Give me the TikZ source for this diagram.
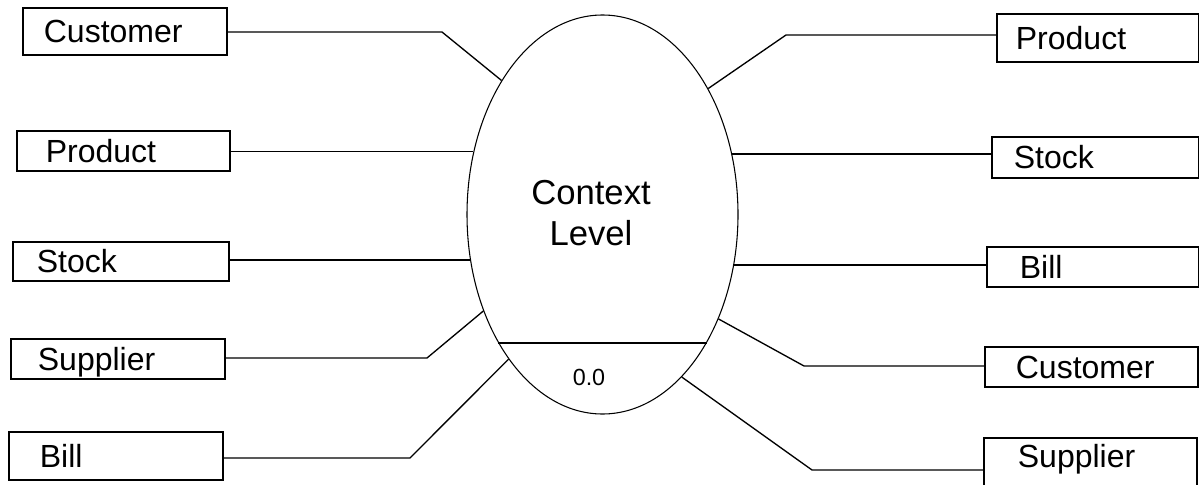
\documentclass[tikz,border=0pt]{standalone}
\usepackage{fontspec}
\setmainfont{Liberation Sans}
\usetikzlibrary{shapes.geometric}

\tikzset{
  entity/.style={draw, line width=1.3pt, anchor=north west, align=left, inner ysep=0pt,
    text height=17pt, text depth=0pt, font=\fontsize{24}{28}\selectfont},
  flow/.style={line width=1pt},
}

\begin{document}
\begin{tikzpicture}[x=0.75pt,y=0.75pt,yscale=-1,xscale=1]
\useasboundingbox (0,0) rectangle (1199,485);

%Shape: Ellipse
\node [draw, ellipse, line width=0.8pt, minimum width=203.25pt, minimum height=299.25pt, inner sep=0pt] (ctx) at (602.5,214.5) {};
%Straight Lines
\draw [flow] (ctx.231) -- (ctx.309);

% Text Node
\node [align=center, font=\fontsize{26}{31}\selectfont] (ctxname) at (591,213) {Context\\Level};
% Text Node
\node [font=\fontsize{17.5}{20}\selectfont] (ctxnum) at (589,377.5) {0.0};

%Shape: Rectangle
\node [entity, minimum width=153pt, minimum height=35.25pt, inner xsep=15.75pt, text width=121.5pt] (lcust) at (22,7) {Customer};
%Shape: Rectangle
\node [entity, minimum width=159.75pt, minimum height=30pt, inner xsep=21.75pt, text width=116.25pt] (lprod) at (16,130) {Product};
%Shape: Rectangle
\node [entity, minimum width=162pt, minimum height=29.25pt, inner xsep=18pt, text width=126pt] (lstock) at (12,241) {Stock};
%Shape: Rectangle
\node [entity, minimum width=160.5pt, minimum height=30pt, inner xsep=20.25pt, text width=120pt] (lsupp) at (10,338) {Supplier};
%Shape: Rectangle
\node [entity, minimum width=160.5pt, minimum height=36pt, inner xsep=23.25pt, text width=114pt] (lbill) at (8,431) {Bill};

%Shape: Rectangle
\node [entity, minimum width=151.5pt, minimum height=36pt, inner xsep=14.25pt, text width=123pt] (rprod) at (996,13) {Product};
%Shape: Rectangle
\node [entity, minimum width=155.25pt, minimum height=30.75pt, inner xsep=16.5pt, text width=122.25pt] (rstock) at (991,136) {Stock};
%Shape: Rectangle
\node [entity, minimum width=159pt, minimum height=30pt, inner xsep=24.75pt, text width=109.5pt] (rbill) at (986,246) {Bill};
%Shape: Rectangle
\node [entity, minimum width=159.75pt, minimum height=30pt, inner xsep=23.25pt, text width=113.25pt] (rcust) at (984,346) {Customer};
%Shape: Rectangle
\node [entity, text height=22.5pt, text depth=17.25pt, inner xsep=25.5pt, text width=108.75pt] (rsupp) at (983,437) {Supplier};

%Straight Lines
\coordinate (lcustbend) at (442,32);
\draw [flow] (lcust.east |- lcustbend) -- (lcustbend) -- (ctx.127);
%Straight Lines
\draw [flow] (lprod.east |- ctx.154) -- (ctx.154);
%Straight Lines
\draw [flow] (lstock.east |- ctx.199) -- (ctx.199);
%Straight Lines
\coordinate (lsuppbend) at (427,358);
\draw [flow] (lsupp.east |- lsuppbend) -- (lsuppbend) -- (ctx.219);
%Straight Lines
\coordinate (lbillbend) at (410,458);
\draw [flow] (lbill.east |- lbillbend) -- (lbillbend) -- (ctx.237);

%Straight Lines
\coordinate (rprodbend) at (786,35);
\draw [flow] (rprod.west |- rprodbend) -- (rprodbend) -- (ctx.50);
%Straight Lines
\draw [flow] (rstock.west |- ctx.25) -- (ctx.25);
%Straight Lines
\draw [flow] (rbill.west |- ctx.339) -- (ctx.339);
%Straight Lines
\coordinate (rcustbend) at (804,366);
\draw [flow] (rcust.west |- rcustbend) -- (rcustbend) -- (ctx.318);
%Straight Lines
\coordinate (rsuppbend) at (812,470);
\draw [flow] (rsupp.west |- rsuppbend) -- (rsuppbend) -- (ctx.296);

\end{tikzpicture}
\end{document}
